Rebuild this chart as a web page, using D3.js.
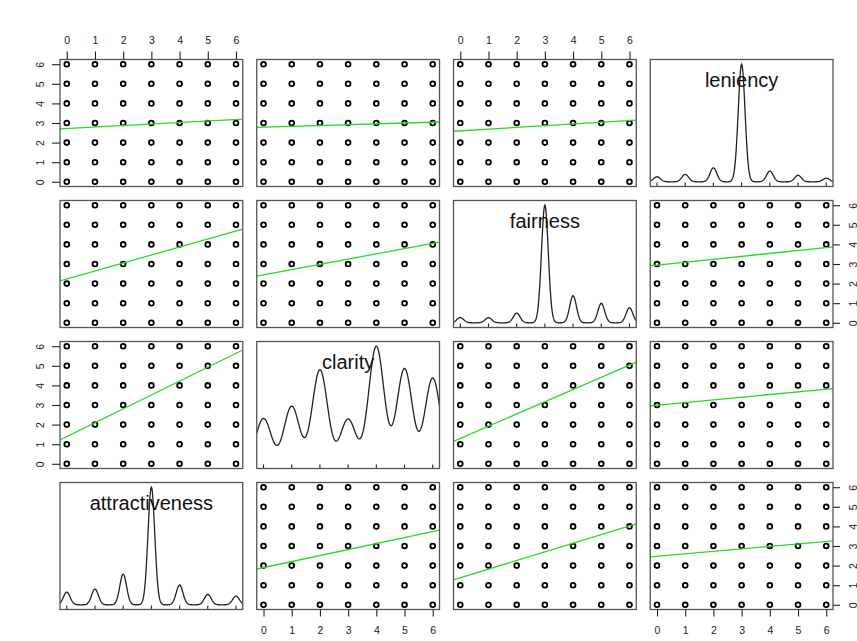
<!DOCTYPE html>
<html>
<head>
<meta charset="utf-8">
<script src="https://cdn.jsdelivr.net/npm/d3@7"></script>
<style>
  html, body { margin: 0; padding: 0; background: #fff; }
  svg { display: block; font-family: "Liberation Sans", Arial, sans-serif; }
</style>
</head>
<body>
<svg id="chart" width="857" height="641"></svg>
<script>
// Rating scale shared by every variable
const levels = [0, 1, 2, 3, 4, 5, 6];
const tickLabels = ["0", "1", "2", "3", "4", "5", "6"];

// Variables, one per row; each one's density sits on the anti-diagonal
const variables = ["leniency", "fairness", "clarity", "attractiveness"];

// Relative frequency of each rating level, per variable
const leniencyFreq = [0.043, 0.063, 0.119, 1.0, 0.091, 0.055, 0.03];
const fairnessFreq = [0.045, 0.043, 0.082, 1.0, 0.23, 0.165, 0.128];
const clarityFreq = [0.386, 0.49, 0.80, 0.38, 1.0, 0.81, 0.73];
const attractivenessFreq = [0.108, 0.134, 0.261, 1.0, 0.168, 0.088, 0.074];

// Kernel bandwidths of the density estimates
const bandwidths = [0.12, 0.12, 0.27, 0.12];

// Least-squares fit lines, per panel (row, column); null on the diagonal
const intercepts = [
  [2.72, 2.79, 2.60, null],
  [2.24, 2.45, null, 2.94],
  [1.39, null, 1.29, 2.99],
  [null, 1.90, 1.38, 2.48]
];
const slopes = [
  [0.076, 0.042, 0.088, null],
  [0.406, 0.267, null, 0.150],
  [0.708, null, 0.625, 0.136],
  [null, 0.307, 0.44, 0.125]
];

const freqs = [leniencyFreq, fairnessFreq, clarityFreq, attractivenessFreq];

const svg = d3.select("#chart");
const n = 4;
const outer = { left: 60, right: 833, top: 59.5, bottom: 609.5 };
const gap = 14;
const pw = (outer.right - outer.left - gap * (n - 1)) / n;
const ph = (outer.bottom - outer.top - gap * (n - 1)) / n;

// Data range with 4% padding on each side
const lo = 0, hi = 6, pad = (hi - lo) * 0.04;
const dom = [lo - pad, hi + pad];

const defs = svg.append("defs");

function panelBox(r, c) {
  const x0 = outer.left + c * (pw + gap);
  const y0 = outer.top + r * (ph + gap);
  return { x0, y0, x1: x0 + pw, y1: y0 + ph };
}

for (let r = 0; r < n; r++) {
  for (let c = 0; c < n; c++) {
    const b = panelBox(r, c);
    const x = d3.scaleLinear().domain(dom).range([b.x0, b.x1]);
    const y = d3.scaleLinear().domain(dom).range([b.y1, b.y0]);
    const clipId = `clip-${r}-${c}`;
    defs.append("clipPath").attr("id", clipId)
      .append("rect").attr("x", b.x0).attr("y", b.y0).attr("width", pw).attr("height", ph);

    const g = svg.append("g");
    const inner = g.append("g").attr("clip-path", `url(#${clipId})`);

    if (c === n - 1 - r) {
      // Diagonal: Gaussian kernel density of the variable
      const w = freqs[r];
      const bw = bandwidths[r];
      const total = d3.sum(w);
      const grid = d3.range(dom[0], dom[1] + 1e-9, (dom[1] - dom[0]) / 400);
      const dens = grid.map(t => {
        let s = 0;
        levels.forEach((lv, i) => {
          const z = (t - lv) / bw;
          s += w[i] * Math.exp(-0.5 * z * z);
        });
        return [t, s / total];
      });
      const maxD = d3.max(dens, d => d[1]);
      const yd = d3.scaleLinear().domain([-0.04 * maxD, 1.04 * maxD]).range([b.y1, b.y0]);
      inner.append("path")
        .datum(dens)
        .attr("fill", "none")
        .attr("stroke", "#222")
        .attr("stroke-width", 1.3)
        .attr("d", d3.line().x(d => x(d[0])).y(d => yd(d[1])));

      // Inward ticks along the bottom edge
      g.selectAll(null).data(levels).enter().append("line")
        .attr("x1", d => x(d)).attr("x2", d => x(d))
        .attr("y1", b.y1).attr("y2", b.y1 - 4)
        .attr("stroke", "#222").attr("stroke-width", 1.1);

      g.append("text")
        .attr("x", (b.x0 + b.x1) / 2)
        .attr("y", b.y0 + 27)
        .attr("text-anchor", "middle")
        .attr("font-size", 20)
        .attr("fill", "#111")
        .text(variables[r]);
    } else {
      // Off-diagonal: every rating combination, then the fitted line
      const pts = [];
      levels.forEach(xv => levels.forEach(yv => pts.push([xv, yv])));
      inner.selectAll(null).data(pts).enter().append("circle")
        .attr("cx", d => x(d[0]))
        .attr("cy", d => y(d[1]))
        .attr("r", 2.4)
        .attr("fill", "none")
        .attr("stroke", "#000")
        .attr("stroke-width", 1.8);

      const a = intercepts[r][c], s = slopes[r][c];
      inner.append("line")
        .attr("x1", x(dom[0])).attr("y1", y(a + s * dom[0]))
        .attr("x2", x(dom[1])).attr("y2", y(a + s * dom[1]))
        .attr("stroke", "#22dd22")
        .attr("stroke-width", 1.3);
    }

    g.append("rect")
      .attr("x", b.x0).attr("y", b.y0)
      .attr("width", pw).attr("height", ph)
      .attr("fill", "none")
      .attr("stroke", "#555")
      .attr("stroke-width", 1.3);

    // Outer axes alternate between sides, as in a pairs plot
    const fmt = (d, i) => tickLabels[i];
    if (r === 0 && c % 2 === 0) {
      const ax = g.append("g").attr("transform", `translate(0,${b.y0})`)
        .call(d3.axisTop(x).tickValues(levels).tickFormat(fmt).tickSize(8).tickPadding(8));
      ax.select(".domain").remove();
    }
    if (r === n - 1 && c % 2 === 1) {
      const ax = g.append("g").attr("transform", `translate(0,${b.y1})`)
        .call(d3.axisBottom(x).tickValues(levels).tickFormat(fmt).tickSize(7).tickPadding(10));
      ax.select(".domain").remove();
    }
    if (c === 0 && r % 2 === 0) {
      const ax = g.append("g").attr("transform", `translate(${b.x0},0)`)
        .call(d3.axisLeft(y).tickValues(levels).tickFormat(fmt).tickSize(8));
      ax.select(".domain").remove();
      ax.selectAll("text")
        .attr("x", null).attr("dy", null)
        .attr("text-anchor", "middle")
        .attr("transform", "translate(-20,0) rotate(-90) translate(0,3.5)");
    }
    if (c === n - 1 && r % 2 === 1) {
      const ax = g.append("g").attr("transform", `translate(${b.x1},0)`)
        .call(d3.axisRight(y).tickValues(levels).tickFormat(fmt).tickSize(7));
      ax.select(".domain").remove();
      ax.selectAll("text")
        .attr("x", null).attr("dy", null)
        .attr("text-anchor", "middle")
        .attr("transform", "translate(20,0) rotate(-90) translate(0,3.5)");
    }
  }
}

svg.selectAll(".tick line").attr("stroke", "#222").attr("stroke-width", 1.1);
svg.selectAll(".tick text")
  .attr("font-size", 10.5)
  .attr("fill", "#222")
  .attr("font-family", "Liberation Sans, Arial, sans-serif");
</script>
</body>
</html>
